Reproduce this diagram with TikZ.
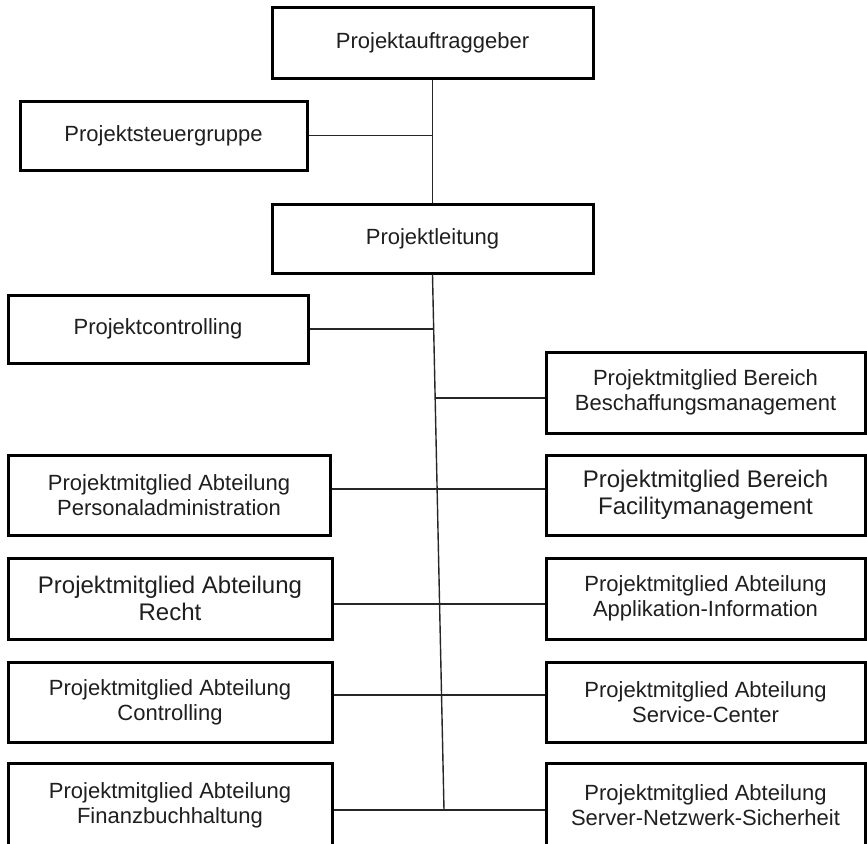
\documentclass[tikz,border=0pt]{standalone}
\usepackage{fontspec}
\setmainfont{Liberation Sans}
\usetikzlibrary{calc}
\tikzset{
  box/.style={draw=black, line width=3pt, fill=white, rectangle, align=center,
    inner sep=0pt, text=black!88, font=\fontsize{22}{25}\selectfont},
  bigtext/.style={font=\fontsize{24}{27}\selectfont},
  conn/.style={draw=black!85, line width=1.4pt},
}
\begin{document}
\begin{tikzpicture}[x=1pt,y=-1pt]
\useasboundingbox (0,0) rectangle (867,843);
% top part
\node[box, minimum width=321pt, minimum height=70pt] (auftrag) at (432.5,43) {Projektauftraggeber};
\node[box, minimum width=287pt, minimum height=69pt] (steuer) at (163.5,135.5) {Projektsteuergruppe};
\node[box, minimum width=321pt, minimum height=69pt] (leitung) at (432.5,238.5) {Projektleitung};
\node[box, minimum width=300pt, minimum height=68pt] (pcontr) at (158,329) {Projektcontrolling};
% right column
\node[box, minimum width=319pt, minimum height=81pt] (beschaff) at (705.5,392.5) {Projektmitglied Bereich\\Beschaffungsmanagement};
\node[box, bigtext, minimum width=319pt, minimum height=80pt] (facility) at (705.5,495) {Projektmitglied Bereich\\Facilitymanagement};
\node[box, minimum width=319pt, minimum height=81pt] (applik) at (705.5,598.5) {Projektmitglied Abteilung\\Applikation-Information};
\node[box, minimum width=319pt, minimum height=80pt] (service) at (705.5,702) {Projektmitglied Abteilung\\Service-Center};
\node[box, minimum width=319pt, minimum height=84pt] (server) at (705.5,805) {Projektmitglied Abteilung\\Server-Netzwerk-Sicherheit};
% left column
\node[box, minimum width=322pt, minimum height=80pt] (personal) at (169,495) {Projektmitglied Abteilung\\Personaladministration};
\node[box, bigtext, minimum width=324pt, minimum height=81pt] (recht) at (170,598.5) {Projektmitglied Abteilung\\Recht};
\node[box, minimum width=324pt, minimum height=80pt] (controlling) at (170,702) {Projektmitglied Abteilung\\Controlling};
\node[box, minimum width=324pt, minimum height=84pt] (finanz) at (170,805) {Projektmitglied Abteilung\\Finanzbuchhaltung};
% junctions on the trunk
\coordinate (bot) at (444,810);
\coordinate (j1) at (434.2,329);
\coordinate (j2) at (435.6,398);
% connectors
\draw[conn] (auftrag.south) -- (leitung.north);
\draw[conn] (steuer.east) -- (steuer.east -| auftrag.south);
\draw[conn] (leitung.south) -- (bot);
\draw[conn] (pcontr.east) -- (j1);
\draw[conn] (j2) -- (j2 -| beschaff.west);
\draw[conn] ([yshift=6pt]personal.east) -- ([yshift=6pt]facility.west);
\draw[conn] ([yshift=-5.5pt]recht.east) -- ([yshift=-5.5pt]applik.west);
\draw[conn] ([yshift=7pt]controlling.east) -- ([yshift=7pt]service.west);
\draw[conn] ([yshift=-5pt]finanz.east) -- ([yshift=-5pt]server.west);
\end{tikzpicture}
\end{document}
